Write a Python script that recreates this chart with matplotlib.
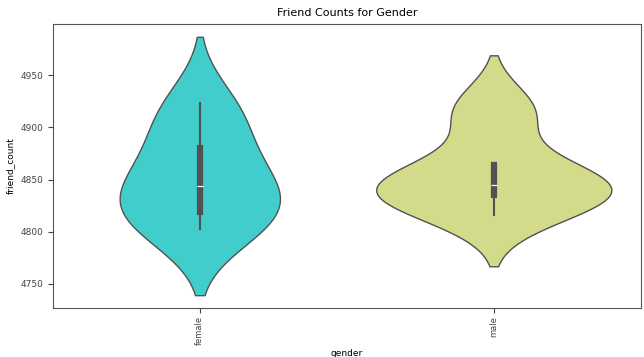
import pandas as pd
import matplotlib.pyplot as plt
import seaborn as sns

# friend counts
female_counts = [4803, 4810, 4828, 4844, 4862, 4898, 4923]
male_counts = [4816, 4828, 4835, 4840, 4845, 4850, 4864, 4912, 4920]
genders = ["female", "male"]
colors = ["#42CDCD", "#D3DB8B"]

df = pd.DataFrame({
    "gender": ["female"] * len(female_counts) + ["male"] * len(male_counts),
    "friend_count": female_counts + male_counts,
})

fig = plt.figure(figsize=(6.44, 3.57), dpi=100)
ax = fig.add_axes([0.082, 0.137, 0.913, 0.796])

sns.violinplot(data=df, x="gender", y="friend_count", order=genders, hue="gender",
               palette=colors, saturation=1, linewidth=1, bw_adjust=1.05,
               common_norm=True, ax=ax, legend=False)

ax.set_title("Friend Counts for Gender", fontsize=8)
ax.set_xlabel("gender", fontsize=6.5)
ax.xaxis.set_label_coords(0.5, -0.145)
ax.set_ylabel("friend_count", fontsize=6.5)
ax.tick_params(labelsize=6.5, colors="#444444")
ax.tick_params(axis="x", rotation=90, labelsize=6, pad=2)
for s in ax.spines.values():
    s.set_color("#555555")

plt.savefig("out.png", dpi=100)
